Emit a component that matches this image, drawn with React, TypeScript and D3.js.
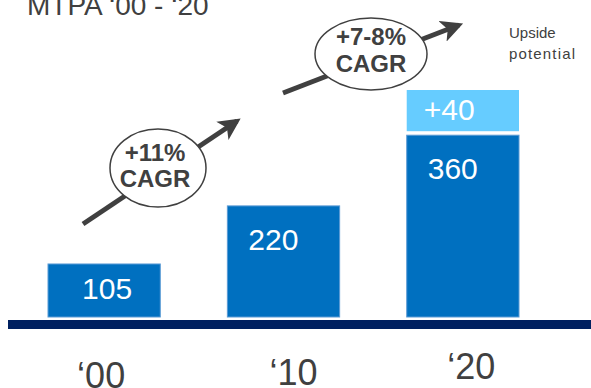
import React, { FC, useEffect, useRef } from "react";
import * as d3 from "d3";

// Data
const years = ["‘00", "‘10", "‘20"];
const capacity = [105, 220, 360];
const upside = [0, 0, 40];
const cagrLabels = [["+11%", "CAGR"], ["+7-8%", "CAGR"]];
const titleText = "MTPA ‘00 - ‘20";
const upsideNote = ["Upside", "potential"];

const W = 591;
const H = 388;

const App: FC = () => {
    const svgRef = useRef<SVGSVGElement>(null);

    useEffect(() => {
        if (!svgRef.current) return;
        const svg = d3.select(svgRef.current);
        svg.selectAll("*").remove();

        const font = "'Liberation Sans', Arial, sans-serif";
        const grey = "#404040";

        // Scales
        const x = d3.scaleBand<string>()
            .domain(years)
            .range([48, 519])
            .paddingInner(0.374)
            .paddingOuter(0);

        const y = d3.scaleLinear()
            .domain([0, 400])
            .range([317, 115]);

        const data = years.map((yr, i) => ({ yr, v: capacity[i], up: upside[i] }));

        // Arrow marker
        svg.append("defs").append("marker")
            .attr("id", "head")
            .attr("viewBox", "0 0 10 10")
            .attr("refX", 8)
            .attr("refY", 5)
            .attr("markerWidth", 4.4)
            .attr("markerHeight", 4.4)
            .attr("orient", "auto")
            .append("path")
            .attr("d", "M0,0 L10,5 L0,10 L2.5,5 Z")
            .attr("fill", grey);

        // Title (cut off at the top, as in the slide)
        svg.append("text")
            .attr("x", 27)
            .attr("y", 15)
            .style("font-family", font)
            .style("font-size", "28px")
            .style("fill", grey)
            .text(titleText);

        // Upside note
        svg.selectAll(".note")
            .data(upsideNote)
            .enter()
            .append("text")
            .attr("class", "note")
            .attr("x", 509)
            .attr("y", (_d, i) => 38 + i * 21)
            .attr("textLength", (_d, i) => (i === 1 ? 66 : null))
            .attr("lengthAdjust", "spacing")
            .style("font-family", font)
            .style("font-size", "15px")
            .style("fill", grey)
            .text(d => d);

        // Bars
        svg.selectAll(".bar")
            .data(data)
            .enter()
            .append("rect")
            .attr("class", "bar")
            .attr("x", d => x(d.yr) || 0)
            .attr("y", d => y(d.v))
            .attr("width", x.bandwidth())
            .attr("height", d => y(0) - y(d.v))
            .attr("fill", "#0070C0")
            .attr("stroke", "#5b9bd5")
            .attr("stroke-width", 1);

        // Upside segment
        const up = data.filter(d => d.up > 0);
        svg.selectAll(".upside")
            .data(up)
            .enter()
            .append("rect")
            .attr("class", "upside")
            .attr("x", d => x(d.yr) || 0)
            .attr("y", d => y(d.v + d.up) - 25)
            .attr("width", x.bandwidth())
            .attr("height", d => (y(d.v) - 4) - (y(d.v + d.up) - 25))
            .attr("fill", "#66CCFF");

        svg.selectAll(".up-label")
            .data(up)
            .enter()
            .append("text")
            .attr("x", d => (x(d.yr) || 0) + 17)
            .attr("y", d => y(d.v) - 15)
            .style("font-family", font)
            .style("font-size", "30px")
            .style("fill", "#ffffff")
            .text(d => `+${d.up}`);

        // Bar value labels
        svg.selectAll(".val")
            .data(data)
            .enter()
            .append("text")
            .attr("x", (d, i) => (i === 0 ? (x(d.yr) || 0) + x.bandwidth() / 2 + 3 : (x(d.yr) || 0) + 21))
            .attr("y", (d, i) => (i === 0 ? (y(d.v) + y(0)) / 2 + 9 : y(d.v) + 44))
            .attr("text-anchor", (_d, i) => (i === 0 ? "middle" : "start"))
            .style("font-family", font)
            .style("font-size", "30px")
            .style("fill", "#ffffff")
            .text(d => d.v);

        // Baseline
        svg.append("rect")
            .attr("x", 8)
            .attr("y", 320)
            .attr("width", W - 8)
            .attr("height", 9)
            .attr("fill", "#002060");

        // Category labels
        const nudge = [[-3, 388], [10, 385], [8.5, 379]];
        svg.selectAll(".cat")
            .data(data)
            .enter()
            .append("text")
            .attr("x", (d, i) => (x(d.yr) || 0) + x.bandwidth() / 2 + nudge[i][0])
            .attr("y", (_d, i) => nudge[i][1])
            .attr("text-anchor", "middle")
            .style("font-family", font)
            .style("font-size", "36px")
            .style("fill", grey)
            .text(d => d.yr);

        // CAGR arrows with ellipse callouts
        const callouts = [
            { from: [83, 224], to: [237, 121], cx: 158, cy: 168, rx: 48, ry: 39, tx: 155, ty: [161, 187] },
            { from: [283, 93], to: [459, 25], cx: 371, cy: 54, rx: 56, ry: 36, tx: 371, ty: [45, 72] },
        ];
        const g = svg.selectAll(".callout")
            .data(callouts)
            .enter()
            .append("g")
            .attr("class", "callout");

        g.append("line")
            .attr("x1", d => d.from[0])
            .attr("y1", d => d.from[1])
            .attr("x2", d => d.to[0])
            .attr("y2", d => d.to[1])
            .attr("stroke", grey)
            .attr("stroke-width", 5)
            .attr("marker-end", "url(#head)");

        g.append("ellipse")
            .attr("cx", d => d.cx)
            .attr("cy", d => d.cy)
            .attr("rx", d => d.rx)
            .attr("ry", d => d.ry)
            .attr("fill", "#ffffff")
            .attr("stroke", grey)
            .attr("stroke-width", 1.5);

        g.each(function (d, i) {
            d3.select(this).selectAll("text")
                .data(cagrLabels[i])
                .enter()
                .append("text")
                .attr("x", d.tx)
                .attr("y", (_t, j) => d.ty[j])
                .attr("text-anchor", "middle")
                .style("font-family", font)
                .style("font-size", "24px")
                .style("font-weight", "bold")
                .style("fill", grey)
                .text(t => t);
        });
    }, []);

    return (
        <svg
            ref={svgRef}
            width={W}
            height={H}
            style={{ position: "absolute", left: 0, top: 0, background: "#ffffff" }}
        ></svg>
    );
};

export default App;
